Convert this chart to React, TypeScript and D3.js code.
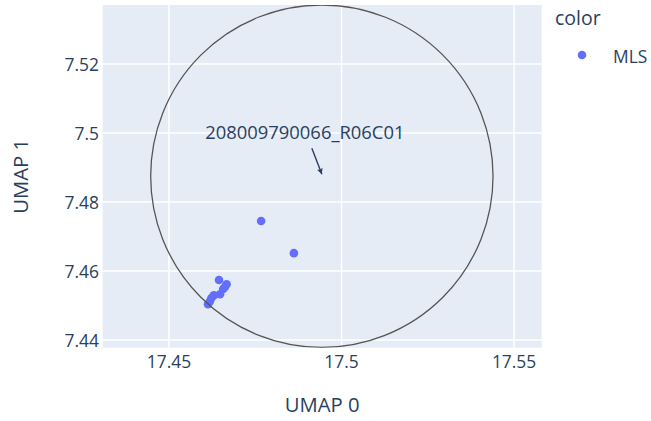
import * as d3 from 'd3';

// UMAP coordinates of the MLS samples
const umap0 = [17.4767, 17.4862, 17.4645, 17.4667, 17.4657, 17.4648, 17.463, 17.4623, 17.4619, 17.4613, 17.4662];
const umap1 = [7.4745, 7.4652, 7.4574, 7.4562, 7.4548, 7.4533, 7.453, 7.4522, 7.4513, 7.4504, 7.4554];

const xTicks = [17.45, 17.5, 17.55];
const yTicks = [7.44, 7.46, 7.48, 7.5, 7.52];

// highlighted sample + circle around it
const highlight = { label: '208009790066_R06C01', x: 17.4943, y: 7.4875 };
const circleRadius = 0.0496;

const xDomain: [number, number] = [17.4308, 17.558];
const yDomain: [number, number] = [7.4378, 7.5371];

const W = 651;
const H = 421;
const ink = '#2a3f5f';
const font = '"Open Sans", sans-serif';

export default function App() {
  const left = 102.7;
  const right = 541.7;
  const top = 5;
  const bottom = 347.7;

  const x = d3.scaleLinear().domain(xDomain).range([left, right]);
  const y = d3.scaleLinear().domain(yDomain).range([bottom, top]);
  const fmt = d3.format('~g');

  const hx = x(highlight.x);
  const hy = y(highlight.y);
  const rx = x(highlight.x + circleRadius) - hx;
  const ry = hy - y(highlight.y + circleRadius);

  // annotation text sits up and to the left of the point
  const tx = hx - 17;
  const ty = hy - 45;
  const tailX = hx - 10;
  const tailY = hy - 28;

  return (
    <div style={{ position: 'absolute', left: 0, top: 0 }}>
      <svg width={W} height={H} style={{ display: 'block', background: '#fff' }}>
        <defs>
          <clipPath id="plot-clip">
            <rect x={left} y={top} width={right - left} height={bottom - top} />
          </clipPath>
          <marker id="arrow" viewBox="-5 -5 10 10" refX="3" refY="0" markerWidth="6" markerHeight="6" orient="auto">
            <path d="M-4,-3.5 L3,0 L-4,3.5 L-2.5,0 Z" fill={ink} />
          </marker>
        </defs>
        <rect x={left} y={top} width={right - left} height={bottom - top} fill="#E5ECF6" />

        {xTicks.map((t) => (
          <line key={'gx' + t} x1={x(t)} x2={x(t)} y1={top} y2={bottom} stroke="#fff" strokeWidth={1.5} />
        ))}
        {yTicks.map((t) => (
          <line key={'gy' + t} x1={left} x2={right} y1={y(t)} y2={y(t)} stroke="#fff" strokeWidth={1.5} />
        ))}

        <g clipPath="url(#plot-clip)">
          {umap0.map((v, i) => (
            <circle key={i} cx={x(v)} cy={y(umap1[i])} r={4.3} fill="#636efa" />
          ))}
          <ellipse cx={hx} cy={hy} rx={rx} ry={ry} fill="none" stroke="#555" strokeWidth={1.3} />
        </g>

        {/* annotation */}
        <line x1={tailX} y1={tailY} x2={hx} y2={hy - 2} stroke={ink} strokeWidth={1.4} markerEnd="url(#arrow)" />
        <text x={tx} y={ty} textAnchor="middle" dominantBaseline="central" fontFamily={font} fontSize={18.4} fill={ink}>
          {highlight.label}
        </text>

        {/* tick labels */}
        {xTicks.map((t) => (
          <text key={'tx' + t} x={x(t)} y={368} textAnchor="middle" fontFamily={font} fontSize={17.4} fill={ink}>
            {fmt(t)}
          </text>
        ))}
        {yTicks.map((t) => (
          <text key={'ty' + t} x={99} y={y(t)} textAnchor="end" dominantBaseline="central" fontFamily={font} fontSize={17.4} fill={ink}>
            {fmt(t)}
          </text>
        ))}

        {/* axis titles */}
        <text x={(left + right) / 2} y={404} textAnchor="middle" dominantBaseline="central" fontFamily={font} fontSize={20.3} fill={ink}>
          UMAP 0
        </text>
        <text
          transform={`translate(20,${(top + bottom) / 2}) rotate(-90)`}
          textAnchor="middle"
          dominantBaseline="central"
          fontFamily={font}
          fontSize={20.3}
          fill={ink}
        >
          UMAP 1
        </text>

        {/* legend */}
        <text x={555} y={17} dominantBaseline="central" fontFamily={font} fontSize={19.5} fill={ink}>
          color
        </text>
        <circle cx={582} cy={55} r={4.3} fill="#636efa" />
        <text x={613} y={56} dominantBaseline="central" fontFamily={font} fontSize={17.4} fill={ink}>
          MLS
        </text>
      </svg>
    </div>
  );
}
